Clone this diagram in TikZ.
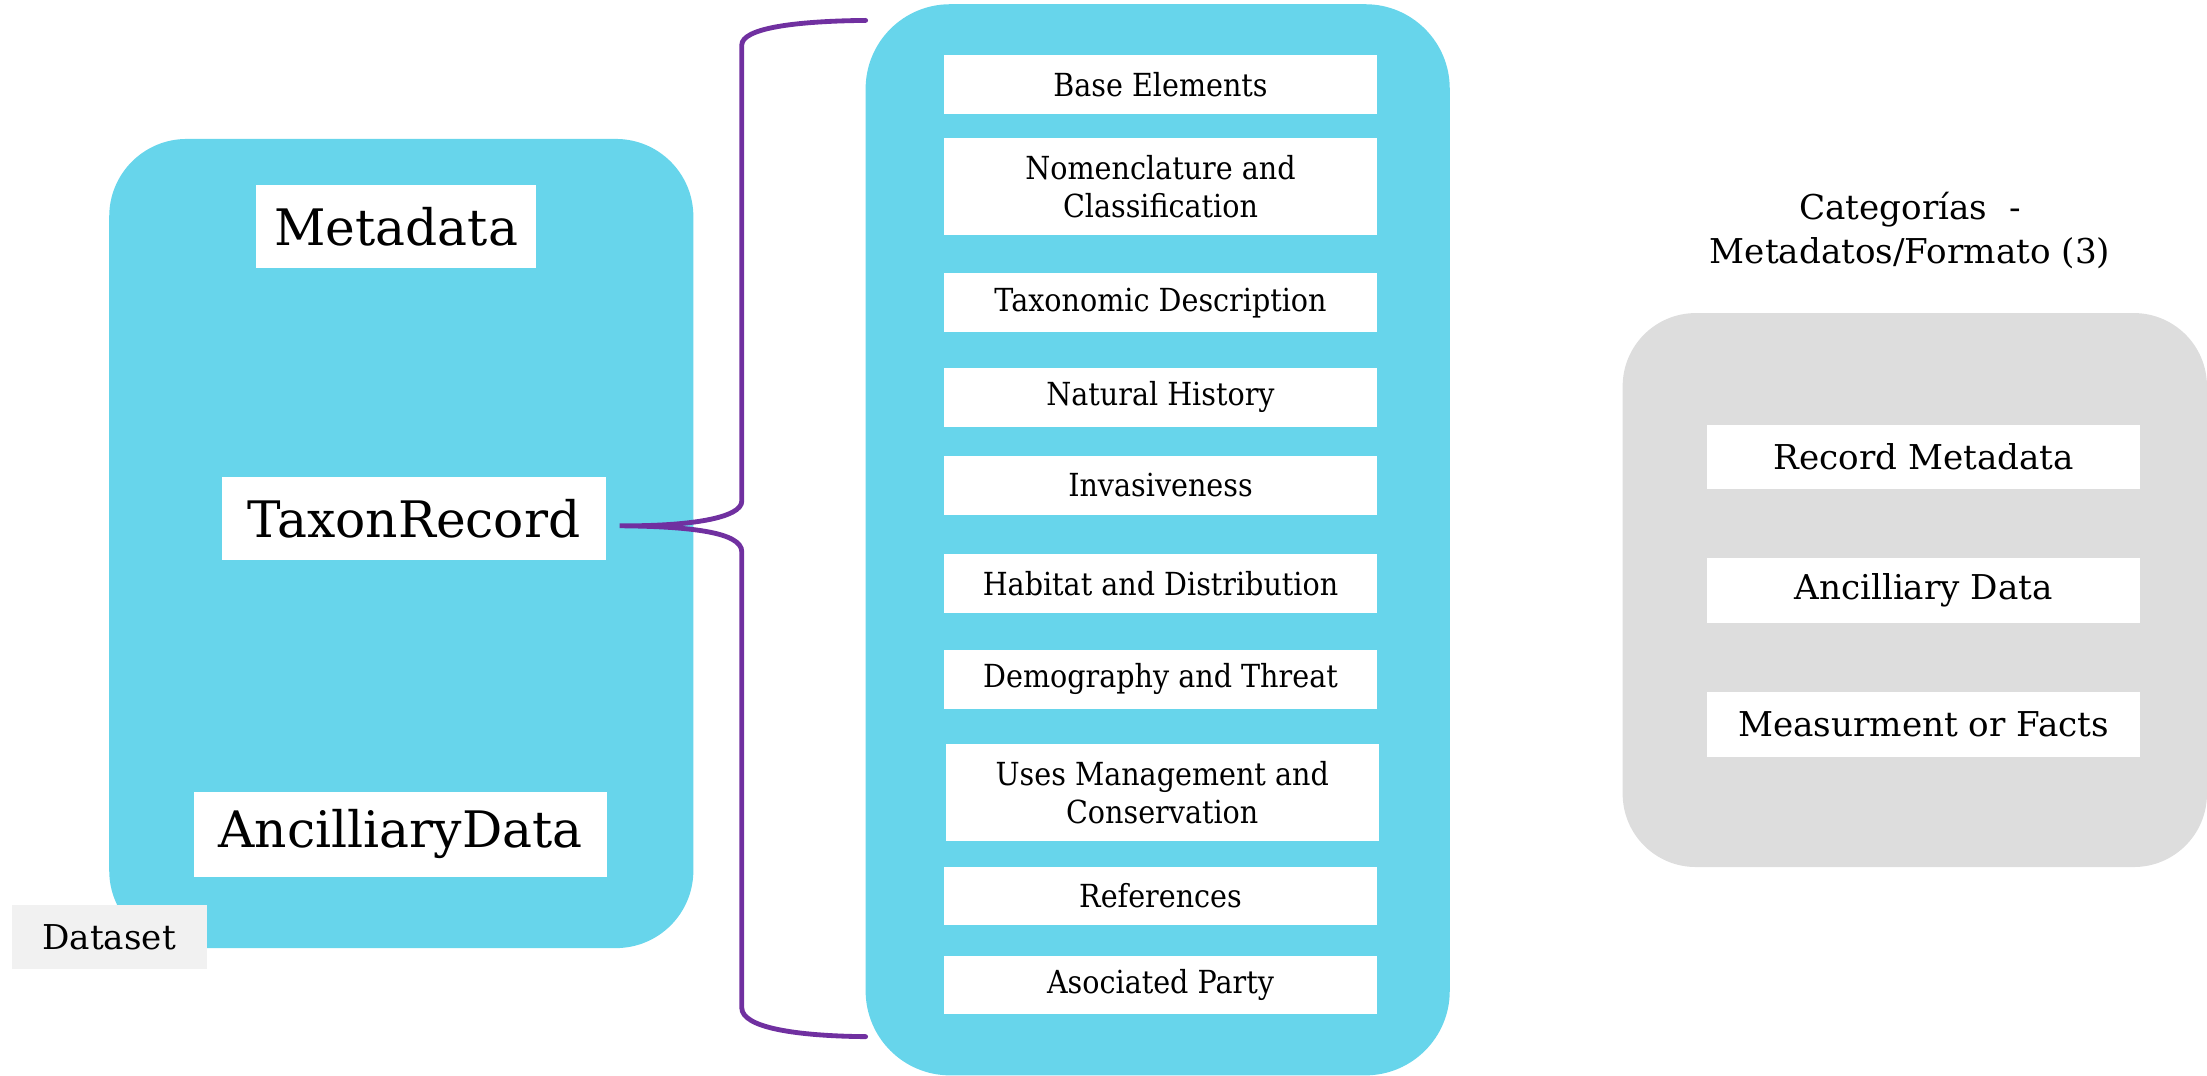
\documentclass[tikz,border=0pt]{standalone}
\usepackage{fontspec}
\setmainfont{DejaVu Serif}
\newfontfamily\narrowserif[FakeStretch=0.9]{DejaVu Serif}
\definecolor{cyanbox}{HTML}{67D5EB}
\definecolor{graybox}{HTML}{DDDDDD}
\definecolor{dsgray}{HTML}{F1F1F1}
\definecolor{bracepurple}{HTML}{7030A0}
\begin{document}
\begin{tikzpicture}[x=0.7pt,y=-0.7pt,
  container/.style={draw=none,inner sep=0pt,rounded corners=#1},
  wbox/.style={fill=white,draw=none,inner sep=0pt,align=center,text=black},
  bigtxt/.style={font=\fontsize{25}{30}\selectfont},
  midtxt/.style={font=\narrowserif\fontsize{15.8}{19}\selectfont,minimum width=215.3pt},
  righttxt/.style={font=\fontsize{17}{22}\selectfont,minimum width=215.5pt,minimum height=31.9pt},
  bracestyle/.style={draw=bracepurple,line width=2.4pt,line cap=round}]
\useasboundingbox (0,0) rectangle (1568,764);
% containers
\node[container=38.5pt,fill=cyanbox,minimum width=290.5pt,minimum height=402.4pt] (ds) at (285.1,386.15) {};
\node[container=42pt,fill=cyanbox,minimum width=290.5pt,minimum height=532.7pt] (tx) at (822.5,383.5) {};
\node[container=36.4pt,fill=graybox,minimum width=290.6pt,minimum height=275.5pt] (cat) at (1360.4,419.2) {};
% left column
\node[wbox,bigtxt,minimum width=139.3pt,minimum height=41.3pt] (meta) at (281.5,161) {Metadata};
\node[wbox,bigtxt,minimum width=191.1pt,minimum height=41.7pt] (tr) at (294.1,368.4) {TaxonRecord};
\node[wbox,bigtxt,minimum width=205.7pt,minimum height=42.2pt] (anc) at (284.6,592.85) {AncilliaryData};
\node[fill=dsgray,inner sep=0pt,minimum width=97pt,minimum height=32.1pt,font=\fontsize{17}{20}\selectfont] (dslabel) at (77.5,665.55) {Dataset};
% middle column
\node[wbox,midtxt,minimum height=29pt] (base) at (824.5,60) {Base Elements};
\node[wbox,midtxt,minimum height=48.1pt] (nom) at (824.5,132.35) {Nomenclature and\\Classification};
\node[wbox,midtxt,minimum height=29.4pt] (taxd) at (824.5,215) {Taxonomic Description};
\node[wbox,midtxt,minimum height=29.3pt] (nat) at (824.5,282.25) {Natural History};
\node[wbox,midtxt,minimum height=29.3pt] (inv) at (824.5,344.8) {Invasiveness};
\node[wbox,midtxt,minimum height=29.3pt] (hab) at (824.5,414.55) {Habitat and Distribution};
\node[wbox,midtxt,minimum height=29.3pt] (dem) at (824.5,482.7) {Demography and Threat};
\node[wbox,midtxt,minimum height=48.2pt] (uses) at (825.7,563) {Uses Management and\\Conservation};
\node[wbox,midtxt,minimum height=29.3pt] (refs) at (824.5,636.55) {References};
\node[wbox,midtxt,minimum height=29.3pt] (asoc) at (824.5,699.8) {Asociated Party};
% right column
\node[align=center,inner sep=0pt,font=\fontsize{17}{22}\selectfont] (cattitle) at (1357,164) {Categorías~~-\\Metadatos/Formato (3)};
\node[wbox,righttxt] (rm) at (1366.6,324.4) {Record Metadata};
\node[wbox,righttxt] (ad) at (1366.6,419.5) {Ancilliary Data};
\node[wbox,righttxt] (mf) at (1366.6,514.75) {Measurment or Facts};
% brace
\coordinate (tip) at ([xshift=6.5pt,yshift=-3.6pt]tr.east);
\coordinate (btop) at (615,14.5);
\coordinate (bbot) at (615,736.5);
\draw[bracestyle] (btop) .. controls (565,15) and (527,20) .. (527,32) -- (527,356)
  .. controls (527,368) and (490,374) .. (tip)
  .. controls (490,374) and (527,378) .. (527,392) -- (527,716)
  .. controls (527,730) and (565,736) .. (bbot);
\end{tikzpicture}
\end{document}
